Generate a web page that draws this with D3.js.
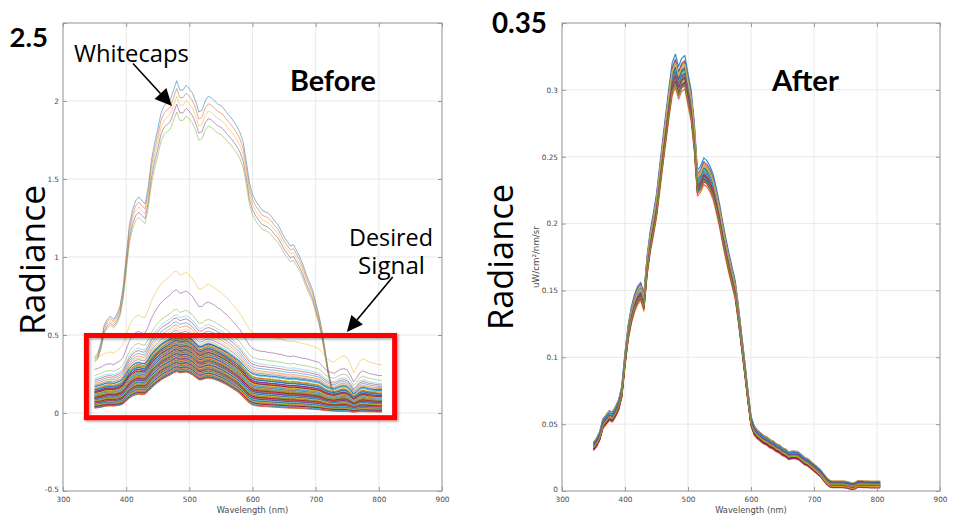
<!DOCTYPE html>
<html>
<head>
<meta charset="utf-8">
<script src="https://cdn.jsdelivr.net/npm/d3@7"></script>
<style>
  body { margin: 0; background: #fff; }
  svg { display: block; }
</style>
</head>
<body>
<svg id="chart" width="954" height="518"></svg>
<script>
// Sampling grid, nm
const wavelengths = d3.range(350, 806, 5);

// Whitecap-contaminated spectra: shape of the brightest one and the peak of each
const whitecapShape = [
  0.36,0.38,0.45,0.56,0.60,0.62,0.60,0.63,0.68,0.80,
  1.00,1.20,1.30,1.36,1.385,1.36,1.34,1.45,1.62,1.73,
  1.82,1.92,1.97,1.99,2.01,2.07,2.13,2.07,2.07,2.10,
  2.08,2.05,2.00,1.93,1.94,2.00,2.03,2.02,2.00,1.98,
  1.97,1.95,1.92,1.90,1.87,1.84,1.80,1.74,1.62,1.48,
  1.40,1.36,1.33,1.30,1.29,1.28,1.26,1.23,1.21,1.17,
  1.13,1.10,1.07,1.08,1.04,1.00,0.95,0.89,0.84,0.79,
  0.71,0.63,0.53,0.40,0.27,0.17,0.12,0.10,0.10,0.11,
  0.11,0.09,0.07,0.09,0.11,0.12,0.13,0.14,0.14,0.15,
  0.16,0.16
];
const whitecapPeaks = [2.13, 2.08, 2.03, 1.98, 1.93];

// Water-leaving component (normalised at 480 nm) and surface-glint component
const waterShape = [
  0.11,0.12,0.13,0.15,0.16,0.165,0.16,0.17,0.18,0.21,
  0.28,0.35,0.40,0.43,0.45,0.44,0.45,0.52,0.60,0.67,
  0.73,0.79,0.84,0.88,0.92,0.97,1.00,0.97,0.98,0.99,
  0.96,0.92,0.86,0.80,0.80,0.83,0.84,0.83,0.81,0.78,
  0.75,0.71,0.67,0.62,0.57,0.52,0.46,0.38,0.30,0.23,
  0.185,0.165,0.155,0.15,0.145,0.14,0.135,0.13,0.125,0.12,
  0.115,0.11,0.105,0.105,0.10,0.10,0.095,0.09,0.085,0.08,
  0.075,0.07,0.06,0.05,0.045,0.04,0.035,0.03,0.03,0.028,
  0.026,0.02,0.012,0.018,0.022,0.022,0.02,0.018,0.017,0.016,
  0.015,0.015
];
const glintShape = [
  0.60,0.61,0.62,0.63,0.64,0.64,0.63,0.65,0.67,0.70,
  0.76,0.82,0.86,0.88,0.88,0.86,0.85,0.89,0.94,0.97,
  0.99,1.00,1.00,1.00,1.00,1.01,1.00,0.97,0.98,0.99,
  0.98,0.97,0.95,0.93,0.93,0.95,0.96,0.95,0.94,0.93,
  0.93,0.92,0.92,0.91,0.91,0.90,0.90,0.89,0.89,0.88,
  0.87,0.87,0.86,0.86,0.86,0.85,0.85,0.85,0.84,0.84,
  0.83,0.82,0.82,0.83,0.82,0.81,0.80,0.80,0.79,0.78,
  0.77,0.76,0.72,0.67,0.64,0.62,0.62,0.66,0.69,0.70,
  0.68,0.60,0.50,0.56,0.64,0.67,0.65,0.63,0.62,0.61,
  0.60,0.60
];

// Each uncorrected spectrum: radiance at 480 nm and at 800 nm
const signalPeaks = [
  0.91,0.79,0.665,0.63,0.61,0.585,0.565,0.545,0.53,0.515,
  0.502,0.497,0.493,0.489,0.483,0.480,0.476,0.471,0.468,0.463,
  0.459,0.456,0.450,0.447,0.443,0.438,0.435,0.431,0.426,0.423,
  0.419,0.414,0.411,0.406,0.403,0.398,0.395,0.391,0.386,0.383,
  0.379,0.374,0.371,0.367,0.362,0.359,0.355,0.350,0.347,0.343,
  0.339,0.335,0.331,0.327,0.323,0.319,0.315,0.311,0.307,0.303,
  0.299,0.295,0.291,0.288,0.284,0.280,0.277,0.273,0.269,0.265
];
const signalTails = [
  0.31,0.24,0.21,0.19,0.18,0.17,0.16,0.155,0.15,0.14,
  0.140,0.128,0.146,0.120,0.132,0.110,0.125,0.118,0.102,0.121,
  0.108,0.096,0.112,0.100,0.090,0.104,0.094,0.085,0.098,0.088,
  0.080,0.092,0.076,0.084,0.072,0.086,0.070,0.078,0.066,0.074,
  0.062,0.070,0.058,0.066,0.055,0.060,0.050,0.058,0.046,0.054,
  0.042,0.049,0.038,0.045,0.035,0.041,0.031,0.037,0.028,0.033,
  0.024,0.029,0.020,0.025,0.016,0.021,0.012,0.017,0.009,0.006
];

// Corrected spectra: common shape with per-spectrum gain and offset
const afterShape = [
  0.033,0.036,0.041,0.050,0.053,0.056,0.055,0.059,0.064,0.074,
  0.098,0.118,0.131,0.140,0.146,0.149,0.141,0.168,0.186,0.199,
  0.213,0.233,0.253,0.272,0.291,0.308,0.314,0.305,0.311,0.313,
  0.300,0.288,0.265,0.230,0.233,0.239,0.237,0.233,0.227,0.217,
  0.206,0.193,0.181,0.170,0.160,0.150,0.132,0.112,0.092,0.071,
  0.052,0.045,0.042,0.040,0.038,0.037,0.035,0.034,0.032,0.031,
  0.029,0.028,0.026,0.0265,0.0265,0.026,0.024,0.022,0.021,0.019,
  0.017,0.015,0.013,0.010,0.007,0.005,0.0045,0.0045,0.0045,0.0045,
  0.0043,0.0038,0.003,0.0035,0.0048,0.0048,0.0046,0.0045,0.0044,0.0044,
  0.0044,0.0044
];
const afterScale = [
  1.034,1.027,1.024,1.019,1.016,1.013,1.011,1.008,1.006,1.004,
  1.002,1.000,0.998,0.996,0.994,0.993,0.991,0.989,0.988,0.986,
  0.984,0.982,0.981,0.979,0.977,0.975,0.973,0.971,0.969,0.966,
  1.009,0.995,0.987,1.015,0.978,1.001,0.992,1.022,0.983,0.970
];
const afterOffset = [
  0.0020,-0.0010,0.0005,0.0028,-0.0015,0.0010,0.0000,-0.0005,0.0018,0.0008,
  -0.0012,0.0004,0.0022,-0.0008,0.0012,-0.0018,0.0006,0.0015,-0.0003,0.0025,
  0.0000,-0.0010,0.0009,0.0017,-0.0014,0.0003,0.0011,-0.0006,0.0020,-0.0016,
  0.0030,-0.0020,0.0007,0.0013,-0.0009,0.0024,0.0002,-0.0012,0.0016,0.0005
];

const xTicks = [300, 400, 500, 600, 700, 800, 900];
const beforeYTicks = [-0.5, 0, 0.5, 1, 1.5, 2, 2.5];
const afterYTicks = [0, 0.05, 0.1, 0.15, 0.2, 0.25, 0.3, 0.35];
const lineColors = ["#0072BD","#D95319","#EDB120","#7E2F8E","#77AC30","#4DBEEE","#A2142F"];

const svg = d3.select("#chart");
const defs = svg.append("defs");
defs.append("filter").attr("id", "boxShadow")
  .attr("x", "-10%").attr("y", "-10%").attr("width", "120%").attr("height", "130%")
  .append("feDropShadow")
  .attr("dx", 1.5).attr("dy", 1.5).attr("stdDeviation", 1.2)
  .attr("flood-color", "#000").attr("flood-opacity", 0.35);

const TOP = 23, BOTTOM = 491;
const left = {
  x: d3.scaleLinear().domain([300, 900]).range([63, 442]),
  y: d3.scaleLinear().domain([-0.5, 2.5]).range([BOTTOM, TOP]),
  yTicks: beforeYTicks, hideTop: 2.5, id: "clipL"
};
const right = {
  x: d3.scaleLinear().domain([300, 900]).range([562, 940]),
  y: d3.scaleLinear().domain([0, 0.35]).range([BOTTOM, TOP]),
  yTicks: afterYTicks, hideTop: 0.35, id: "clipR"
};

const tickFont = "DejaVu Sans";
const axisColor = "#9a9a9a";

function drawFrame(p) {
  const [x0, x1] = p.x.range();
  const g = svg.append("g");
  // grid
  g.selectAll(".vg").data(xTicks).join("line")
    .attr("x1", d => p.x(d)).attr("x2", d => p.x(d))
    .attr("y1", TOP).attr("y2", BOTTOM)
    .attr("stroke", "#e9e9e9").attr("stroke-width", 1);
  g.selectAll(".hg").data(p.yTicks).join("line")
    .attr("x1", x0).attr("x2", x1)
    .attr("y1", d => p.y(d)).attr("y2", d => p.y(d))
    .attr("stroke", "#e9e9e9").attr("stroke-width", 1);

  defs.append("clipPath").attr("id", p.id).append("rect")
    .attr("x", x0).attr("y", TOP).attr("width", x1 - x0).attr("height", BOTTOM - TOP);
}

function drawAxes(p) {
  const [x0, x1] = p.x.range();
  const g = svg.append("g");
  const fmt = d => (d === p.hideTop ? "" : String(d));
  const bottom = g.append("g").attr("transform", `translate(0,${BOTTOM})`)
    .call(d3.axisBottom(p.x).tickValues(xTicks).tickSize(-4).tickSizeOuter(0).tickPadding(5.5).tickFormat(d => String(d)));
  const top = g.append("g").attr("transform", `translate(0,${TOP})`)
    .call(d3.axisTop(p.x).tickValues(xTicks).tickSize(-4).tickSizeOuter(0).tickFormat(""));
  const lft = g.append("g").attr("transform", `translate(${x0},0)`)
    .call(d3.axisLeft(p.y).tickValues(p.yTicks).tickSize(-4).tickSizeOuter(0).tickPadding(4).tickFormat(fmt));
  const rgt = g.append("g").attr("transform", `translate(${x1},0)`)
    .call(d3.axisRight(p.y).tickValues(p.yTicks).tickSize(-4).tickSizeOuter(0).tickFormat(""));
  [bottom, top, lft, rgt].forEach(a => {
    a.select(".domain").remove();
    a.selectAll(".tick line").attr("stroke", axisColor);
    a.selectAll("text").attr("font-family", tickFont).attr("font-size", 7.3).attr("fill", "#4a4a4a");
  });
  // lift the lowest y label a touch so it clears the first x label
  lft.selectAll(".tick text").filter(d => d === p.yTicks[0]).attr("dy", "0.1em");
  g.append("rect").attr("x", x0).attr("y", TOP).attr("width", x1 - x0).attr("height", BOTTOM - TOP)
    .attr("fill", "none").attr("stroke", axisColor).attr("stroke-width", 1);
  g.append("text").attr("x", (x0 + x1) / 2).attr("y", 513)
    .attr("text-anchor", "middle").attr("font-family", tickFont).attr("font-size", 8.3)
    .attr("fill", "#4a4a4a").text("Wavelength (nm)");
}

function drawSeries(p, series, colorStart, width, opacityOf) {
  const line = d3.line()
    .x((d, j) => p.x(wavelengths[j]))
    .y(d => p.y(d))
    .curve(d3.curveLinear);
  svg.append("g").attr("clip-path", `url(#${p.id})`)
    .selectAll("path").data(series).join("path")
    .attr("d", line)
    .attr("fill", "none")
    .attr("stroke", (d, i) => lineColors[(i + colorStart) % lineColors.length])
    .attr("stroke-width", width)
    .attr("stroke-opacity", (d, i) => opacityOf(i))
    .attr("stroke-linejoin", "round");
}

// ---- Before panel ----
drawFrame(left);
const wcTop = d3.max(whitecapShape);
const whitecapSeries = whitecapPeaks.map(pk => whitecapShape.map(v => v * pk / wcTop));
const i480 = wavelengths.indexOf(480), i800 = wavelengths.indexOf(800);
const signalSeries = signalPeaks.map((P, i) => {
  const T = signalTails[i];
  // solve P = a*W480 + g*E480, T = a*W800 + g*E800
  const w1 = waterShape[i480], e1 = glintShape[i480], w2 = waterShape[i800], e2 = glintShape[i800];
  const det = w1 * e2 - e1 * w2;
  const a = (P * e2 - e1 * T) / det;
  const gl = (w1 * T - w2 * P) / det;
  return wavelengths.map((w, j) => a * waterShape[j] + gl * glintShape[j]);
});
drawSeries(left, whitecapSeries, 0, 1, () => 0.5);
// the few bright spectra above the main band render lighter
drawSeries(left, signalSeries, 2, 1, i => (i < 10 ? 0.5 : 0.85));
drawAxes(left);

// ---- After panel ----
drawFrame(right);
const afterSeries = afterScale.map((s, i) => afterShape.map(v => v * s + afterOffset[i]));
drawSeries(right, afterSeries, 0, 1.2, () => 0.8);
drawAxes(right);

// ---- Annotations ----
function fitWidth(sel, target) {
  const w = sel.node().getComputedTextLength();
  const fs = parseFloat(sel.attr("font-size"));
  sel.attr("font-size", (fs * target / w).toFixed(2));
  return sel;
}
function label(x, y, txt, opts) {
  const t = svg.append("text").attr("x", x).attr("y", y)
    .attr("font-family", opts.family).attr("font-weight", opts.weight || "normal")
    .attr("font-size", opts.size).attr("fill", "#000")
    .attr("text-anchor", opts.anchor || "start").text(txt);
  if (opts.rotate) t.attr("transform", `rotate(-90,${x},${y})`);
  if (opts.width) fitWidth(t, opts.width);
  return t;
}

label(9.5, 47, "2.5", { family: "Lato", weight: "bold", size: 26, width: 38.5 });
label(492, 33, "0.35", { family: "Lato", weight: "bold", size: 26, width: 55 });
label(290, 90.5, "Before", { family: "Lato", weight: "bold", size: 27, width: 86 });
label(772, 90.5, "After", { family: "Lato", weight: "bold", size: 27, width: 67 });

label(74, 61.5, "Whitecaps", { family: "Open Sans", size: 24, width: 115 });
label(391, 246, "Desired", { family: "Open Sans", size: 23, anchor: "middle", width: 84 });
label(391.5, 273.5, "Signal", { family: "Open Sans", size: 23, anchor: "middle", width: 67 });

label(45, 260, "Radiance", { family: "Open Sans", size: 35, anchor: "middle", rotate: true, width: 150 });
label(513, 257, "Radiance", { family: "Open Sans", size: 35, anchor: "middle", rotate: true, width: 146 });
label(538.5, 257, "uW/cm\u00B2/nm/sr", { family: tickFont, size: 7, anchor: "middle", rotate: true, width: 62 })
  .attr("fill", "#4a4a4a");

// Arrows, anchored in data units of the Before panel
const arrowSpecs = [
  { from: [410.8, 2.24], to: [472.5, 1.968], len: 17, half: 8 },
  { from: [822, 0.872], to: [749.4, 0.519], len: 16, half: 7.5 }
];
arrowSpecs.forEach(a => {
  const x1 = left.x(a.from[0]), y1 = left.y(a.from[1]);
  const x2 = left.x(a.to[0]), y2 = left.y(a.to[1]);
  const ang = Math.atan2(y2 - y1, x2 - x1);
  const bx = x2 - a.len * Math.cos(ang), by = y2 - a.len * Math.sin(ang);
  svg.append("line").attr("x1", x1).attr("y1", y1).attr("x2", bx).attr("y2", by)
    .attr("stroke", "#000").attr("stroke-width", 1.6);
  const px = -Math.sin(ang) * a.half, py = Math.cos(ang) * a.half;
  svg.append("polygon")
    .attr("points", [[x2, y2], [bx + px, by + py], [bx - px, by - py]].map(p => p.join(",")).join(" "))
    .attr("fill", "#000");
});

// Highlight box around the low-radiance spectra
const boxX = [337, 825], boxY = [-0.03, 0.497];
svg.append("rect")
  .attr("x", left.x(boxX[0])).attr("y", left.y(boxY[1]))
  .attr("width", left.x(boxX[1]) - left.x(boxX[0]))
  .attr("height", left.y(boxY[0]) - left.y(boxY[1]))
  .attr("fill", "none").attr("stroke", "#ff0000").attr("stroke-width", 5)
  .attr("filter", "url(#boxShadow)");
</script>
</body>
</html>
